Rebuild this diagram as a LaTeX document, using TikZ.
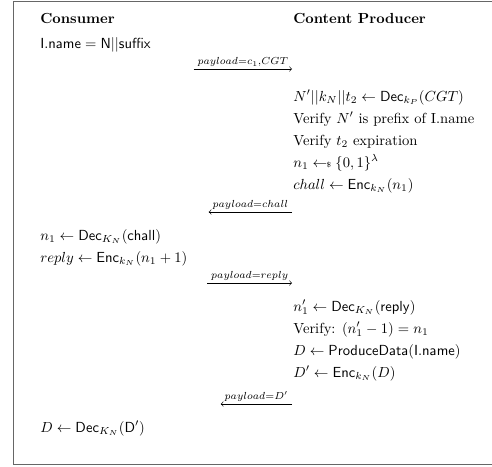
\documentclass[tikz,border=0pt]{standalone}
\usepackage{amsmath}
\usepackage{amssymb}
\usetikzlibrary{calc}

\begin{document}
\begin{tikzpicture}[x=0.685pt,y=-0.685pt,
    txt/.style={anchor=base west,inner sep=0pt},
    msg/.style={anchor=south east,inner xsep=2.5pt,inner ysep=1.2pt,font=\scriptsize}]
              \useasboundingbox (0,0) rectangle (492,466);
              \draw[black!60] (492,1) -- (13,1) -- (13,464) -- (492,464);
              % the two parties
              \node[txt](cons)at(40,23){\textbf{Consumer}};
              \node[txt](prod)at(293,23){\textbf{Content Producer}};
              \node[txt](c1)at(40,48){$\mathsf{I.name} = \mathsf{N}||\mathsf{suffix}$};
              % first message
              \node[msg](m1)at(292,69){$payload{=}c_1{,}CGT$};
              \draw[-to](m1.south west)--(m1.south east);
              \node[txt](p1)at(293,101){$N'||k_N||t_2 \leftarrow \mathsf{Dec}_{k_P}(CGT)$};
              \node[txt](p2)at(293,123){Verify $N'$ is prefix of I.name};
              \node[txt](p3)at(293,145){Verify $t_2$ expiration};
              \node[txt](p4)at(293,167){$n_1 \leftarrow\!\!{\scriptscriptstyle\$}\;\{0,1\}^\lambda$};
              \node[txt](p5)at(293,189){$chall \leftarrow \mathsf{Enc}_{k_N}(n_1)$};
              % challenge
              \node[msg](m2)at(292,212){$payload{=}chall$};
              \draw[-to](m2.south east)--(m2.south west);
              \node[txt](c2)at(40,240){$n_1 \leftarrow \mathsf{Dec}_{K_N}(\mathsf{chall})$};
              \node[txt](c3)at(40,262){$reply \leftarrow \mathsf{Enc}_{k_N}(n_1+1)$};
              % reply
              \node[msg](m3)at(292,283){$payload{=}reply$};
              \draw[-to](m3.south west)--(m3.south east);
              \node[txt](p6)at(293,311){$n_1' \leftarrow \mathsf{Dec}_{K_N}(\mathsf{reply})$};
              \node[txt](p7)at(293,333){Verify: $(n_1'-1) = n_1$};
              \node[txt](p8)at(293,355){$D \leftarrow \mathsf{ProduceData}(\mathsf{I.name})$};
              \node[txt](p9)at(293,377){$D' \leftarrow \mathsf{Enc}_{k_N}(D)$};
              % data
              \node[msg](m4)at(292,404){$payload{=}D'$};
              \draw[-to](m4.south east)--(m4.south west);
              \node[txt](c4)at(40,432){$D \leftarrow \mathsf{Dec}_{K_N}(\mathsf{D}')$};
            \end{tikzpicture}
\end{document}
